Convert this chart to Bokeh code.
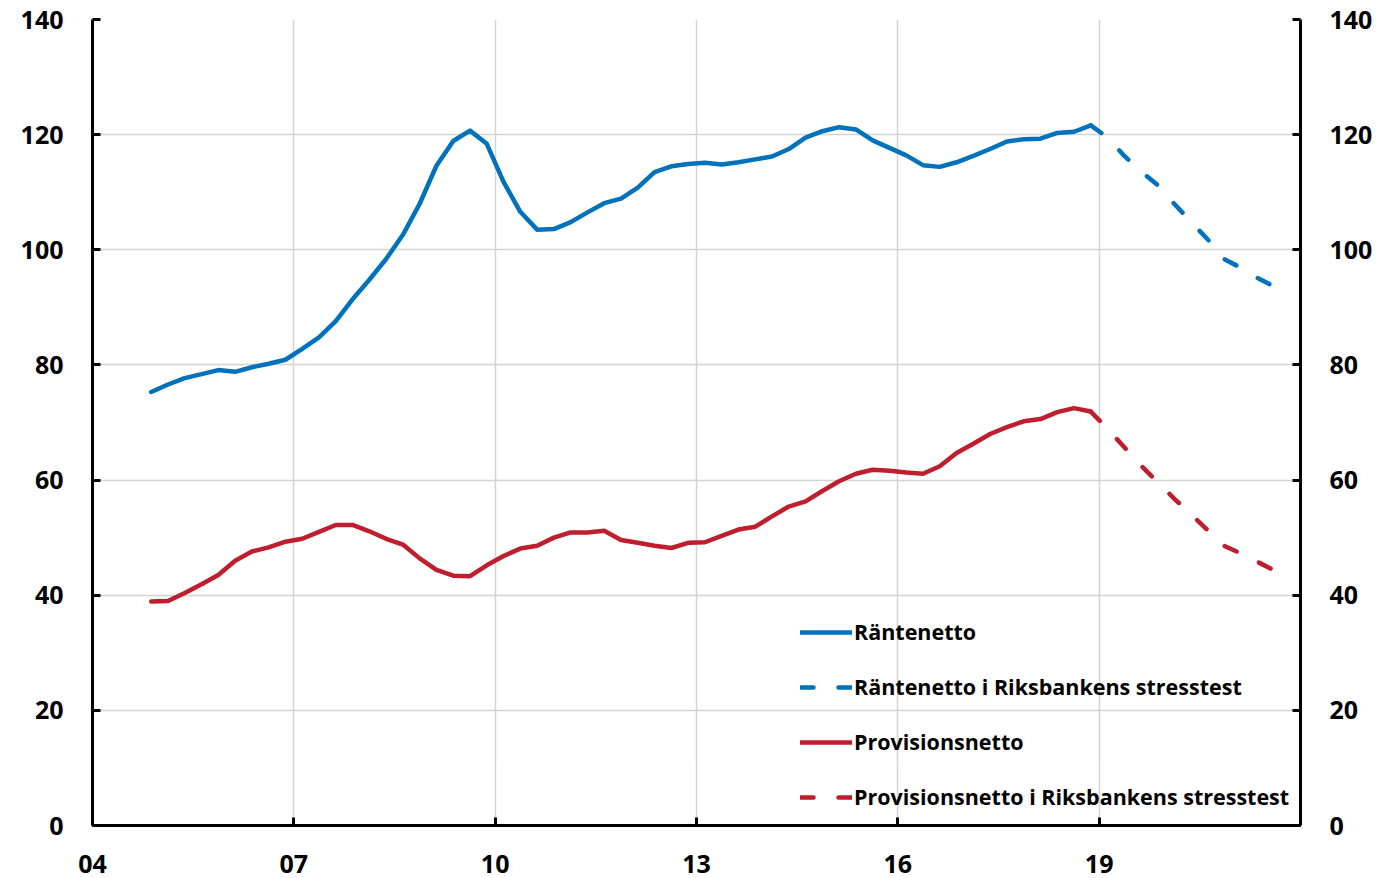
from bokeh.plotting import figure
from bokeh.models import LinearAxis, FixedTicker, Legend, LegendItem, Range1d
from bokeh.embed import file_html
from bokeh.resources import INLINE

# Quarterly data, 2004Q4 - 2018Q4 (historical)
RANTENETTO = [75.3, 76.6, 77.7, 78.4, 79.1, 78.8, 79.6, 80.2, 80.9, 82.8,
              84.8, 87.6, 91.4, 94.8, 98.4, 102.6, 108.0, 114.6, 118.9, 120.7,
              118.4, 111.8, 106.6, 103.5, 103.6, 104.8, 106.5, 108.1, 108.9, 110.8,
              113.5, 114.5, 114.9, 115.1, 114.8, 115.2, 115.7, 116.2, 117.5, 119.5,
              120.6, 121.3, 120.9, 119.0, 117.7, 116.4, 114.7, 114.4, 115.2, 116.3,
              117.5, 118.8, 119.2, 119.3, 120.3, 120.5, 121.6]
PROVISIONSNETTO = [38.9, 39.0, 40.4, 41.9, 43.5, 46.0, 47.6, 48.3, 49.3, 49.8,
                   51.0, 52.2, 52.2, 51.1, 49.8, 48.8, 46.4, 44.4, 43.4, 43.3,
                   45.2, 46.8, 48.1, 48.6, 50.0, 50.9, 50.9, 51.2, 49.6, 49.1,
                   48.6, 48.2, 49.1, 49.2, 50.3, 51.4, 51.9, 53.7, 55.4, 56.3,
                   58.1, 59.8, 61.1, 61.8, 61.6, 61.3, 61.1, 62.4, 64.7, 66.3,
                   68.0, 69.2, 70.2, 70.6, 71.8, 72.5, 71.9]
# Stress test, 2019Q1 - 2021Q3
RANTENETTO_STRESS = [119.5, 116.3, 113.6, 111.2, 107.9, 104.8, 101.7, 98.3, 96.8, 95.0, 93.5]
PROVISIONSNETTO_STRESS = [68.9, 65.7, 62.5, 59.6, 56.7, 54.0, 51.2, 48.5, 47.2, 45.7, 44.2]

HIST_START = (2004, 4)
STRESS_START = (2019, 1)

X_TICKS = [2004, 2007, 2010, 2013, 2016, 2019]
X_LABELS = ["04", "07", "10", "13", "16", "19"]
Y_TICKS = [0, 20, 40, 60, 80, 100, 120, 140]

LABELS = ["Räntenetto", "Räntenetto i Riksbankens stresstest",
          "Provisionsnetto", "Provisionsnetto i Riksbankens stresstest"]

BLUE = "#0071BB"
RED = "#BE1E2D"
FONT = "Open Sans"


def quarter_x(start, n):
    y0, q0 = start
    out = []
    for i in range(n):
        k = (q0 - 1) + i
        year = y0 + k // 4
        q = k % 4
        out.append(year + q / 4 + 0.125)
    return out


hx = quarter_x(HIST_START, len(RANTENETTO))
sx = quarter_x(STRESS_START, len(RANTENETTO_STRESS))

p = figure(width=1382, height=878, x_range=Range1d(2004, 2022), y_range=Range1d(0, 140),
           output_backend="svg", toolbar_location=None,
           min_border_left=92, min_border_right=82, min_border_top=19, min_border_bottom=53)
p.outline_line_color = None
p.background_fill_color = "white"
p.border_fill_color = "white"

p.add_layout(LinearAxis(), "right")

for ax in p.yaxis:
    ax.ticker = FixedTicker(ticks=Y_TICKS)
    ax.major_label_standoff = 29
for ax in p.xaxis:
    ax.ticker = FixedTicker(ticks=X_TICKS)
    ax.major_label_overrides = {t: l for t, l in zip(X_TICKS, X_LABELS)}
    ax.major_label_standoff = 29
for ax in p.axis:
    ax.axis_line_width = 3
    ax.axis_line_color = "black"
    ax.major_tick_line_width = 3
    ax.major_tick_line_color = "black"
    ax.major_tick_in = 8
    ax.major_tick_out = 0
    ax.minor_tick_in = 0
    ax.minor_tick_out = 0
    ax.major_label_text_font = FONT
    ax.major_label_text_font_style = "bold"
    ax.major_label_text_font_size = "25px"
    ax.major_label_text_color = "black"

p.xgrid.ticker = FixedTicker(ticks=X_TICKS)
p.ygrid.ticker = FixedTicker(ticks=Y_TICKS)
for g in (p.xgrid, p.ygrid):
    g.grid_line_color = "#d4d4d4"
    g.grid_line_width = 1.5

LW = 4.5
DASH = "13 25"
r1 = p.line(hx, RANTENETTO, line_color=BLUE, line_width=LW, line_join="round", line_cap="round")
r2 = p.line([hx[-1]] + sx, [RANTENETTO[-1]] + RANTENETTO_STRESS, line_color=BLUE, line_width=LW,
            line_dash=DASH, line_join="round", line_cap="round")
r3 = p.line(hx, PROVISIONSNETTO, line_color=RED, line_width=LW, line_join="round", line_cap="round")
r4 = p.line([hx[-1]] + sx, [PROVISIONSNETTO[-1]] + PROVISIONSNETTO_STRESS, line_color=RED, line_width=LW,
            line_dash=DASH, line_join="round", line_cap="round")

legend = Legend(items=[LegendItem(label=l, renderers=[r]) for l, r in zip(LABELS, [r1, r2, r3, r4])],
                location=(700, 6))
legend.label_text_font = FONT
legend.label_text_font_style = "bold"
legend.label_text_font_size = "21.5px"
legend.label_text_color = "black"
legend.glyph_width = 52
legend.glyph_height = 20
legend.label_height = 20
legend.label_standoff = 2
legend.spacing = 26
legend.padding = 8
legend.margin = 0
legend.background_fill_alpha = 0
legend.border_line_alpha = 0
p.add_layout(legend)

open("out.html", "w").write(file_html(p, INLINE))
